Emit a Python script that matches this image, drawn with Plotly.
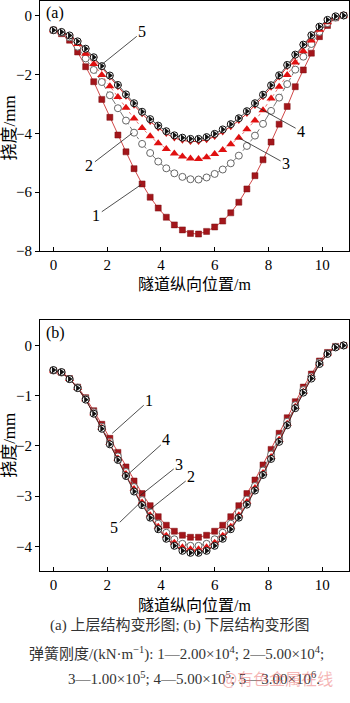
import plotly.graph_objects as go

# ---------------- data ----------------
x_pos = [round(0.3 * i, 1) for i in range(37)]  # 0 .. 10.8 m

# (a) upper structure deflection, mm
a1 = [-0.50,-0.62,-0.84,-1.24,-1.74,-2.25,-2.85,-3.46,-4.06,-4.63,-5.20,-5.72,-6.17,-6.54,-6.85,-7.11,-7.28,-7.40,-7.42,-7.33,-7.18,-6.98,-6.70,-6.34,-5.89,-5.44,-4.90,-4.30,-3.69,-3.09,-2.42,-1.85,-1.28,-0.72,-0.34,-0.08,0.00]
a2 = [-0.50,-0.58,-0.74,-1.06,-1.46,-1.85,-2.26,-2.71,-3.15,-3.57,-3.98,-4.36,-4.67,-4.96,-5.19,-5.36,-5.48,-5.56,-5.57,-5.50,-5.38,-5.23,-5.02,-4.76,-4.43,-4.08,-3.68,-3.24,-2.79,-2.33,-1.84,-1.40,-0.97,-0.56,-0.26,-0.07,0.00]
a3 = [-0.50,-0.57,-0.71,-0.97,-1.30,-1.65,-2.02,-2.40,-2.77,-3.13,-3.50,-3.82,-4.10,-4.34,-4.53,-4.69,-4.79,-4.86,-4.87,-4.81,-4.70,-4.57,-4.37,-4.15,-3.86,-3.57,-3.22,-2.82,-2.42,-2.02,-1.60,-1.22,-0.85,-0.49,-0.23,-0.06,0.00]
a4 = [-0.50,-0.57,-0.70,-0.91,-1.17,-1.46,-1.77,-2.09,-2.42,-2.74,-3.05,-3.34,-3.60,-3.82,-4.01,-4.16,-4.24,-4.28,-4.28,-4.22,-4.11,-3.96,-3.78,-3.57,-3.33,-3.06,-2.76,-2.44,-2.09,-1.74,-1.38,-1.03,-0.70,-0.40,-0.16,-0.04,0.00]
a5 = [-0.50,-0.56,-0.68,-0.88,-1.13,-1.42,-1.72,-2.04,-2.36,-2.68,-2.98,-3.27,-3.52,-3.74,-3.93,-4.07,-4.15,-4.19,-4.19,-4.13,-4.02,-3.87,-3.69,-3.49,-3.25,-2.98,-2.69,-2.37,-2.03,-1.68,-1.33,-0.99,-0.67,-0.38,-0.15,-0.03,0.00]

# (b) lower structure deflection, mm
b1 = [-0.50,-0.54,-0.66,-0.83,-1.04,-1.30,-1.57,-1.85,-2.13,-2.42,-2.70,-2.95,-3.19,-3.41,-3.58,-3.70,-3.78,-3.82,-3.82,-3.78,-3.70,-3.58,-3.41,-3.19,-2.95,-2.68,-2.38,-2.07,-1.75,-1.44,-1.12,-0.83,-0.57,-0.31,-0.14,-0.02,0.00]
b2 = [-0.50,-0.54,-0.67,-0.84,-1.06,-1.33,-1.62,-1.92,-2.21,-2.52,-2.82,-3.08,-3.32,-3.55,-3.73,-3.86,-3.95,-3.99,-3.99,-3.95,-3.86,-3.73,-3.55,-3.32,-3.07,-2.80,-2.49,-2.17,-1.84,-1.52,-1.19,-0.89,-0.62,-0.34,-0.16,-0.03,0.00]
b3 = [-0.50,-0.54,-0.67,-0.85,-1.07,-1.35,-1.64,-1.94,-2.25,-2.56,-2.86,-3.13,-3.38,-3.61,-3.79,-3.93,-4.02,-4.06,-4.06,-4.02,-3.93,-3.79,-3.61,-3.38,-3.12,-2.84,-2.54,-2.22,-1.88,-1.56,-1.22,-0.92,-0.64,-0.36,-0.16,-0.04,0.00]
b4 = [-0.50,-0.54,-0.67,-0.85,-1.08,-1.36,-1.65,-1.96,-2.27,-2.59,-2.89,-3.16,-3.41,-3.64,-3.83,-3.97,-4.07,-4.11,-4.11,-4.07,-3.97,-3.83,-3.64,-3.41,-3.15,-2.87,-2.56,-2.24,-1.91,-1.58,-1.24,-0.93,-0.65,-0.37,-0.17,-0.04,0.00]
b5 = [-0.49,-0.53,-0.67,-0.85,-1.08,-1.36,-1.66,-1.97,-2.28,-2.60,-2.91,-3.18,-3.43,-3.66,-3.85,-3.99,-4.09,-4.13,-4.13,-4.09,-3.99,-3.85,-3.66,-3.43,-3.17,-2.89,-2.58,-2.26,-1.92,-1.59,-1.25,-0.94,-0.66,-0.37,-0.17,-0.04,0.00]

x_ticks = [0, 2, 4, 6, 8, 10]
x_title = "隧道纵向位置/m"
y_title = "挠度/mm"
caption = [
    "(a) 上层结构变形图; (b) 下层结构变形图",
    "弹簧刚度/(kN·m<sup>−1</sup>): 1—2.00×10<sup>4</sup>; 2—5.00×10<sup>4</sup>;",
    "3—1.00×10<sup>5</sup>; 4—5.00×10<sup>5</sup>; 5—3.00×10<sup>6</sup>.",
]

# ---------------- figure ----------------
W, H = 350, 703
SERIF = "Liberation Serif, Times New Roman, serif"
CJK = "Liberation Serif, Noto Sans CJK SC, serif"

fig = go.Figure()

def add_panel(ys, xa, ya):
    s1, s2, s3, s4, s5 = ys
    fig.add_trace(go.Scatter(x=x_pos, y=s1, xaxis=xa, yaxis=ya, mode="lines+markers",
                             line=dict(color="#d04848", width=1),
                             marker=dict(symbol="square", size=6, color="#a3161b",
                                         line=dict(color="#7a0e10", width=0.5))))
    fig.add_trace(go.Scatter(x=x_pos, y=s2, xaxis=xa, yaxis=ya, mode="lines+markers",
                             line=dict(color="#777777", width=1, dash="dashdot"),
                             marker=dict(symbol="circle", size=7, color="white",
                                         line=dict(color="#666666", width=1))))
    fig.add_trace(go.Scatter(x=x_pos, y=s3, xaxis=xa, yaxis=ya, mode="lines+markers",
                             line=dict(color="#e05050", width=0.8, dash="dot"),
                             marker=dict(symbol="triangle-up", size=8, color="#e01010",
                                         line=dict(width=0))))
    fig.add_trace(go.Scatter(x=x_pos, y=s4, xaxis=xa, yaxis=ya, mode="lines+markers",
                             line=dict(color="#d02020", width=1),
                             marker=dict(symbol="triangle-down", size=7, color="#cc1111",
                                         line=dict(width=0))))
    fig.add_trace(go.Scatter(x=x_pos, y=s5, xaxis=xa, yaxis=ya, mode="lines+markers",
                             line=dict(color="#222222", width=0.8),
                             marker=dict(symbol="circle", size=7, color="white",
                                         line=dict(color="#111111", width=1))))
    fig.add_trace(go.Scatter(x=x_pos, y=s5, xaxis=xa, yaxis=ya, mode="markers",
                             marker=dict(symbol="triangle-right", size=6, color="#111111",
                                         line=dict(width=0))))

add_panel([a1, a2, a3, a4, a5], "x", "y")
add_panel([b1, b2, b3, b4, b5], "x2", "y2")

xdom = [40 / W, 349 / W]
axis_common = dict(showline=True, mirror=True, linecolor="black", linewidth=1,
                   showgrid=False, zeroline=False,
                   tickfont=dict(family=SERIF, size=15, color="black"),
                   tickcolor="black")

fig.update_layout(
    width=W, height=H, margin=dict(l=0, r=0, t=0, b=0),
    paper_bgcolor="white", plot_bgcolor="white", showlegend=False,
    xaxis=dict(domain=xdom, range=[-0.5, 11], tickvals=x_ticks, ticks="inside", ticklen=4,
               anchor="y", **axis_common),
    yaxis=dict(domain=[1 - 254 / H, 0.999], range=[-8, 0.5], dtick=2, ticks="outside",
               ticklen=4, anchor="x", **axis_common),
    xaxis2=dict(domain=xdom, range=[-0.5, 11], tickvals=x_ticks, ticks="inside", ticklen=4,
                anchor="y2", **axis_common),
    yaxis2=dict(domain=[1 - 578 / H, 1 - 324 / H], range=[-4.5, 0.5], dtick=1,
                ticks="outside", ticklen=4, anchor="x2", **axis_common),
)

def px(xp):
    return xp / W

def py(yp):
    return 1 - yp / H

ann = []
label_font = dict(family=SERIF, size=16, color="black")

def pointer(text, x, y, ax, ay, xref, yref):
    ann.append(dict(text=text, x=x, y=y, xref=xref, yref=yref, ax=ax, ay=ay,
                    showarrow=True, arrowhead=0, arrowwidth=0.8, arrowcolor="#222222",
                    standoff=0, font=label_font))

# panel (a) labels
pointer("5", 1.78, -1.68, 41, -33, "x", "y")
pointer("2", 2.94, -3.99, -43, 33, "x", "y")
pointer("1", 3.27, -5.74, -45, 31, "x", "y")
pointer("4", 7.47, -3.05, 47, 26, "x", "y")
pointer("3", 6.91, -4.16, 47, 26, "x", "y")
# panel (b) labels
pointer("1", 2.19, -1.75, 37, -33, "x2", "y2")
pointer("4", 2.75, -2.58, 39, -35, "x2", "y2")
pointer("3", 3.23, -2.99, 39, -31, "x2", "y2")
pointer("2", 3.49, -3.31, 44, -35, "x2", "y2")
pointer("5", 3.23, -3.13, -26, 25, "x2", "y2")

ann.append(dict(text="(a)", x=px(44), y=py(13), xref="paper", yref="paper",
                xanchor="left", yanchor="middle", showarrow=False, font=label_font))
ann.append(dict(text="(b)", x=px(44), y=py(337), xref="paper", yref="paper",
                xanchor="left", yanchor="middle", showarrow=False, font=label_font))

# axis titles
title_font = dict(family=CJK, size=16, color="black")
for yc in (130, 451):
    ann.append(dict(text=y_title, x=px(10), y=py(yc), xref="paper", yref="paper",
                    textangle=-90, showarrow=False, font=dict(family=CJK, size=17, color="black"),
                    xanchor="center", yanchor="middle"))
for yc in (288, 612):
    ann.append(dict(text=x_title, x=px(194), y=py(yc), xref="paper", yref="paper",
                    showarrow=False, font=title_font, xanchor="center", yanchor="middle"))

# caption
cap_font = dict(family=CJK, size=15, color="#333333")
for txt, xc, yc in zip(caption, (180, 176, 194), (633, 661, 686)):
    ann.append(dict(text=txt, x=px(xc), y=py(yc), xref="paper", yref="paper",
                    showarrow=False, font=cap_font, xanchor="center", yanchor="middle"))
ann.append(dict(text="@有色金属在线", x=px(277), y=py(686), xref="paper", yref="paper",
                showarrow=False, xanchor="center", yanchor="middle",
                font=dict(family="Noto Sans CJK SC", size=16, color="rgba(235,110,110,0.5)")))

fig.update_layout(annotations=ann)
fig.write_html("out.html")
